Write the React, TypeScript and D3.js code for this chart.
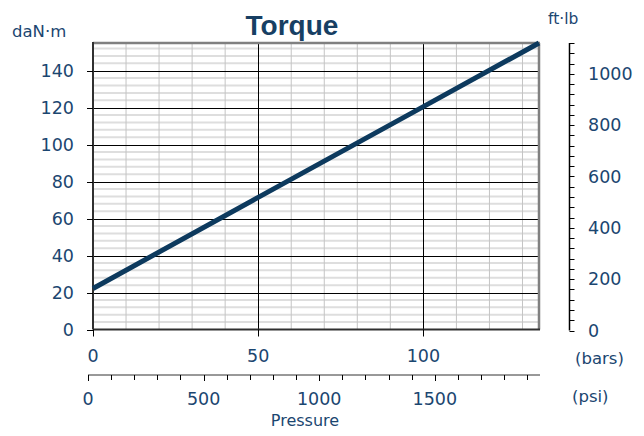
import React from 'react';
import * as d3 from 'd3';

// torque line (bars -> daN·m)
const pressureBars = [0, 50, 100, 135];
const torqueDaNm = [22.2, 71.5, 120.6, 155];

const leftTicks = [0, 20, 40, 60, 80, 100, 120, 140];
const rightTicks = [0, 200, 400, 600, 800, 1000];
const barTicks = [0, 50, 100];
const psiTicks = [0, 500, 1000, 1500];

const textColor = '#1b4670';
const lineColor = '#0d3a5e';
const font = '"DejaVu Sans", Verdana, sans-serif';

function App() {
    const width = 644;
    const height = 436;
    const plot = {left: 93, right: 539, top: 43, bottom: 329.5};

    const x = d3.scaleLinear().domain([0, 135]).range([plot.left, plot.right]);
    const y = d3.scaleLinear().domain([0, 155]).range([plot.bottom, plot.top]);
    const yRight = d3.scaleLinear().domain([0, 1120]).range([plot.bottom + 1, plot.top]);
    const psi = d3.scaleLinear().domain([0, 1955]).range([88, 540]);

    const minorH = d3.range(4, 155, 4).filter(v => v % 20 !== 0);
    const minorV = d3.range(10, 135, 10).filter(v => v % 50 !== 0);
    const majorH = d3.range(20, 155, 20);
    const majorV = d3.range(50, 135, 50);
    const rightMinor = d3.range(0, 1121, 40);
    const psiMinor = d3.range(0, 1955, 100);

    const line = d3.line<number>()
        .x((d, i) => x(pressureBars[i]))
        .y(d => y(d));

    const rightAxisX = 569.5;
    const psiAxisY = 375;

    return (
        <svg width={width} height={height} style={{position: 'absolute', left: 0, top: 0, background: '#fff'}}
             fontFamily={font}>
            <rect x={0} y={0} width={width} height={height} fill="#fff"/>
            {/* grid */}
            {minorH.map(v => (
                <line key={'mh' + v} x1={plot.left} x2={plot.right} y1={y(v)} y2={y(v)}
                      stroke="#dedede" strokeWidth={2}/>
            ))}
            {minorV.map(v => (
                <line key={'mv' + v} x1={x(v)} x2={x(v)} y1={plot.top} y2={plot.bottom}
                      stroke="#c4c4c4" strokeWidth={1}/>
            ))}
            {majorH.map(v => (
                <line key={'MH' + v} x1={plot.left} x2={plot.right} y1={Math.round(y(v)) + 0.5} y2={Math.round(y(v)) + 0.5}
                      stroke="#000" strokeWidth={1}/>
            ))}
            {majorV.map(v => (
                <line key={'MV' + v} x1={Math.round(x(v)) + 0.5} x2={Math.round(x(v)) + 0.5} y1={plot.top} y2={plot.bottom}
                      stroke="#000" strokeWidth={1}/>
            ))}
            {/* border */}
            <line x1={plot.left} x2={plot.right + 1} y1={plot.top} y2={plot.top} stroke="#808080" strokeWidth={2.5}/>
            <line x1={plot.right} x2={plot.right} y1={plot.top} y2={plot.bottom} stroke="#808080" strokeWidth={2.5}/>
            <line x1={plot.left} x2={plot.right + 1} y1={plot.bottom} y2={plot.bottom} stroke="#303030" strokeWidth={2}/>
            <line x1={plot.left} x2={plot.left} y1={plot.top - 1} y2={plot.bottom} stroke="#303030" strokeWidth={2}/>

            {/* left axis */}
            {leftTicks.map(v => (
                <g key={'lt' + v}>
                    <line x1={87} x2={plot.left} y1={Math.round(y(v)) + 0.5} y2={Math.round(y(v)) + 0.5} stroke="#000"/>
                    <text x={74} y={y(v)} dy="0.36em" textAnchor="end" fontSize={17.5} fill={textColor}>{v}</text>
                </g>
            ))}
            <text x={12} y={37} fontSize={16.5} fill={textColor}>daN·m</text>

            {/* torque line */}
            <path d={line(torqueDaNm) || ''} fill="none" stroke={lineColor} strokeWidth={5}/>

            {/* right axis */}
            <line x1={rightAxisX} x2={rightAxisX} y1={plot.top} y2={yRight(0)} stroke="#000" strokeWidth={1.5}/>
            {rightMinor.map(v => (
                <line key={'rm' + v} x1={rightAxisX} x2={rightAxisX + 5} y1={Math.round(yRight(v)) + 0.5}
                      y2={Math.round(yRight(v)) + 0.5} stroke="#000"/>
            ))}
            {rightTicks.map(v => (
                <text key={'rt' + v} x={588} y={yRight(v)} dy="0.36em" fontSize={17.5} fill={textColor}>{v}</text>
            ))}
            <text x={548} y={24} fontSize={15.5} fill={textColor}>ft·lb</text>

            {/* bars axis */}
            {barTicks.map(v => (
                <g key={'bt' + v}>
                    <line x1={Math.round(x(v)) + 0.5} x2={Math.round(x(v)) + 0.5} y1={plot.bottom} y2={plot.bottom + 7} stroke="#000"/>
                    <text x={x(v)} y={356} dy="0.36em" textAnchor="middle" fontSize={17.5} fill={textColor}>{v}</text>
                </g>
            ))}
            <text x={575} y={358} dy="0.36em" fontSize={16.5} fill={textColor}>(bars)</text>

            {/* psi axis */}
            <line x1={88} x2={540} y1={psiAxisY} y2={psiAxisY} stroke="#333" strokeWidth={1}/>
            {psiMinor.map(v => (
                <line key={'pm' + v} x1={Math.round(psi(v)) + 0.5} x2={Math.round(psi(v)) + 0.5} y1={psiAxisY}
                      y2={psiAxisY + (v % 500 === 0 ? 6 : 5)} stroke="#000"/>
            ))}
            {psiTicks.map(v => (
                <text key={'pt' + v} x={psi(v)} y={399} dy="0.36em" textAnchor="middle" fontSize={17.5} fill={textColor}>{v}</text>
            ))}
            <text x={572} y={396} dy="0.36em" fontSize={16.5} fill={textColor}>(psi)</text>
            <text x={305} y={420} dy="0.36em" textAnchor="middle" fontSize={16} fill={textColor}>Pressure</text>

            {/* title */}
            <text x={292} y={35} textAnchor="middle" fontSize={28} fontWeight="bold"
                  fontFamily='"Liberation Sans", Arial, sans-serif' fill="#173f63">Torque</text>
        </svg>
    );
}

export default App;
